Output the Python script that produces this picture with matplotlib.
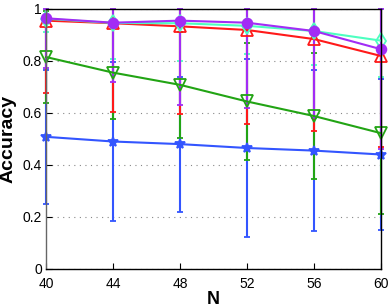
import matplotlib
matplotlib.use('Agg')
import matplotlib.pyplot as plt
import numpy as np

plt.rcParams['font.family'] = ['Liberation Sans', 'DejaVu Sans']

N = [40, 44, 48, 52, 56, 60]

# mean accuracy and std for each method
blue_mean = [0.508, 0.490, 0.480, 0.465, 0.455, 0.440]
blue_std = [0.258, 0.304, 0.260, 0.343, 0.309, 0.290]
green_mean = [0.815, 0.755, 0.708, 0.644, 0.588, 0.522]
green_std = [0.178, 0.180, 0.203, 0.225, 0.242, 0.310]
red_mean = [0.955, 0.945, 0.933, 0.919, 0.884, 0.819]
red_std = [0.277, 0.340, 0.337, 0.361, 0.352, 0.350]
cyan_mean = [0.962, 0.946, 0.945, 0.935, 0.915, 0.878]
cyan_std = [0.050, 0.140, 0.145, 0.110, 0.130, 0.140]
purple_mean = [0.964, 0.947, 0.955, 0.947, 0.915, 0.845]
purple_std = [0.190, 0.227, 0.325, 0.327, 0.335, 0.385]

series = [
    (blue_mean, blue_std, '#3355ff', '*', 'full', 7),
    (green_mean, green_std, '#22a414', 'v', 'none', 8),
    (red_mean, red_std, '#ff1a1a', '^', 'none', 8),
    (cyan_mean, cyan_std, '#4dffc0', 'd', 'none', 8),
    (purple_mean, purple_std, '#a22cf5', 'o', 'full', 7),
]

fig = plt.figure(figsize=(3.9, 3.08), dpi=100)
ax = fig.add_axes([0.118, 0.127, 0.859, 0.844])

for m, s, c, mk, fill, ms in series:
    m = np.array(m)
    s = np.array(s)
    # whiskers stop at the top of the plot like in the original figure
    upper = np.minimum(m + s, 1.0) - m
    lines = ax.errorbar(N, m, yerr=[s, upper], color=c, marker=mk, fillstyle=fill,
                        markersize=ms, markeredgewidth=1.3, linewidth=1.5,
                        elinewidth=1.5, capsize=2.5, capthick=1.3)
    for art in lines.get_children():
        art.set_clip_on(False)

ax.set_xlim(40, 60)
ax.set_ylim(0, 1)
ax.set_xticks(N)
ax.set_yticks([0, 0.2, 0.4, 0.6, 0.8, 1])
ax.set_yticklabels(['0', '0.2', '0.4', '0.6', '0.8', '1'])
ax.yaxis.grid(True, linestyle=(0, (1, 4)), color='#888888', linewidth=0.8)
ax.tick_params(direction='in', labelsize=10, length=4)
ax.tick_params(axis='x', pad=6)
ax.tick_params(axis='y', pad=3)
ax.set_xlabel('N', fontsize=13, fontweight='bold', va='center')
ax.xaxis.set_label_coords(0.5, -0.119)
ax.set_ylabel('Accuracy', fontsize=14, fontweight='bold', labelpad=4)
for sp in ax.spines.values():
    sp.set_linewidth(1.0)
ax.spines['left'].set_color('#666666')

fig.savefig('out.png', dpi=100)
